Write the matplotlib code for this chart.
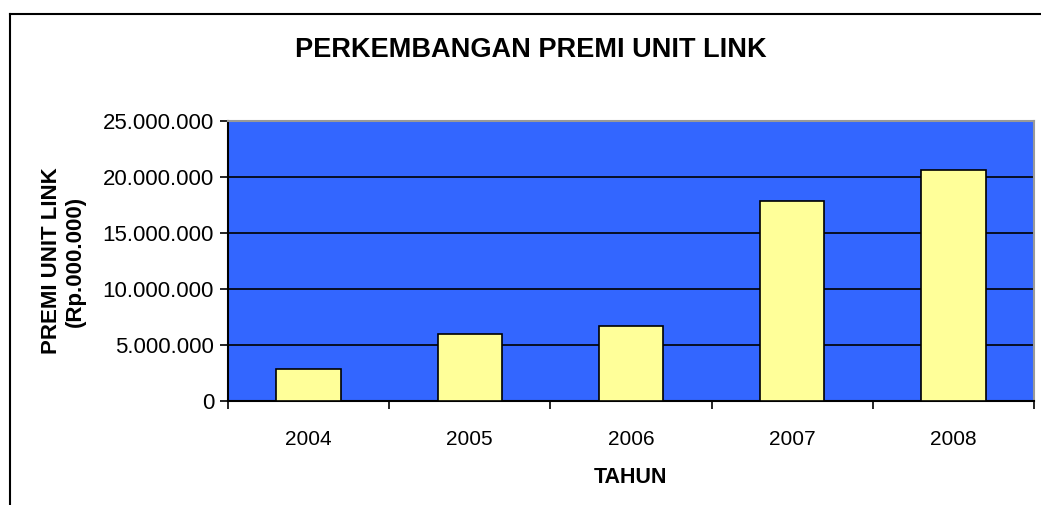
import matplotlib.pyplot as plt
from matplotlib.lines import Line2D
from matplotlib.ticker import FuncFormatter

plt.rcParams['font.family'] = ['Liberation Sans', 'DejaVu Sans']

years = ['2004', '2005', '2006', '2007', '2008']
premi = [2900000, 5950000, 6700000, 17880000, 20600000]
y_ticks = [0, 5000000, 10000000, 15000000, 20000000, 25000000]

fig = plt.figure(figsize=(10.41, 5.05), dpi=100)
ax = fig.add_axes([228 / 1041, 104 / 505, 806 / 1041, 280 / 505])

# outer chart frame (only left and top are visible in the picture)
fig.add_artist(Line2D([10 / 1041, 10 / 1041], [0, 1 - 14 / 505], color='black', lw=1.5, transform=fig.transFigure))
fig.add_artist(Line2D([10 / 1041, 1], [1 - 14 / 505, 1 - 14 / 505], color='black', lw=1.5, transform=fig.transFigure))

x = range(len(years))
ax.set_facecolor('#3366FF')
ax.bar(x, premi, width=0.4, color='#FFFF99', edgecolor='black', linewidth=1.2, zorder=3)

ax.set_xlim(-0.5, len(years) - 0.5)
ax.set_ylim(0, 25000000)
ax.set_yticks(y_ticks)
ax.yaxis.set_major_formatter(FuncFormatter(lambda v, p: f'{int(v):,}'.replace(',', '.')))
ax.grid(axis='y', color='black', linewidth=1.2, zorder=1)

ax.set_xticks(list(x))
ax.set_xticklabels(years)
ax.set_xticks([i - 0.5 for i in range(len(years) + 1)], minor=True)
ax.tick_params(axis='x', which='major', length=0, pad=21, labelsize=15)
ax.tick_params(axis='x', which='minor', length=6, width=1.2, direction='out')
ax.tick_params(axis='y', length=6, width=1.2, direction='out', labelsize=16, pad=4)

for s in ['left', 'bottom']:
    ax.spines[s].set_linewidth(1.5)
    ax.spines[s].set_color('black')
for s in ['top', 'right']:
    ax.spines[s].set_color('#999999')
    ax.spines[s].set_linewidth(1.5)

ax.set_xlabel('TAHUN', fontsize=15.5, fontweight='bold', labelpad=13)
ax.set_ylabel('PREMI UNIT LINK\n(Rp.000.000)', fontsize=16, fontweight='bold', labelpad=12)
fig.text(531 / 1041, 1 - 50 / 505, 'PERKEMBANGAN PREMI UNIT LINK', ha='center', va='center',
         fontsize=19.5, fontweight='bold')

fig.savefig('out.png', dpi=100)
